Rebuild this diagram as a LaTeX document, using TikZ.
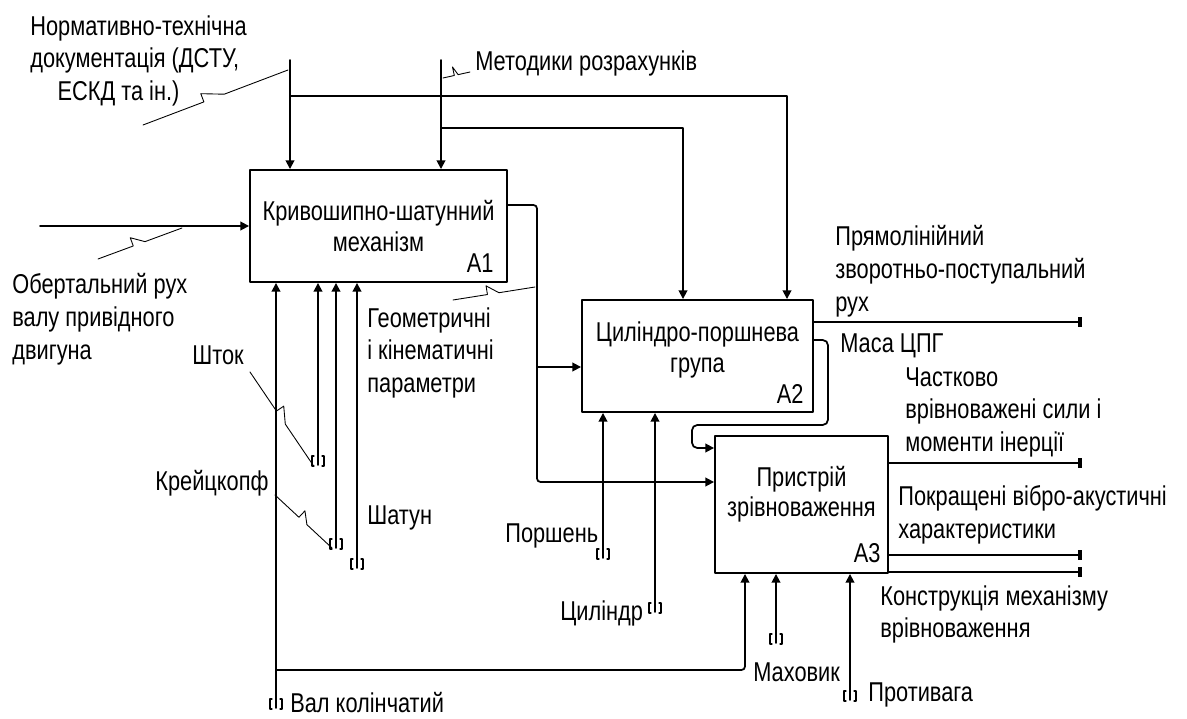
\documentclass[tikz,border=0pt]{standalone}
\usepackage{fontspec}
\setmainfont{Liberation Sans}[FakeStretch=0.8]
\usetikzlibrary{arrows.meta,calc}

\newcommand\squig[2]{%
  \path (#1) -- (#2) coordinate[pos=.42] (sqa) coordinate[pos=.56] (sqb);
  \draw[lead] (#1) -- (sqa) -- ($(sqa)!5pt!90:(#2)$) -- (sqb) -- (#2);}

\begin{document}
\begin{tikzpicture}[line cap=round,line join=round,x=0.02cm,y=-0.02cm,
  lbl/.style={font=\fontsize{15.5}{18.7}\selectfont,inner sep=0pt,anchor=north west,align=left},
  box/.style={draw,line width=1.1pt,inner sep=0pt,align=center,font=\fontsize{15.5}{17.5}\selectfont},
  flow/.style={line width=1pt,-{Triangle[width=5pt,length=5pt]}},
  outp/.style={line width=1pt,-{Rectangle[width=5.5pt,length=2.2pt]}},
  lead/.style={line width=0.5pt},
  tunnel/.pic={\draw[line width=0.6pt] (-4,-9) -- (-6,-9) -- (-6,1) -- (-4,1) (4,-9) -- (6,-9) -- (6,1) -- (4,1);}]
\useasboundingbox (0,0) rectangle (1187,719);

% functions
\node[box,minimum width=5.14cm,minimum height=2.24cm] (a1) at (378.5,226) {Кривошипно-шатунний\\механізм};
\node[box,minimum width=4.62cm,minimum height=2.24cm,text depth=10pt] (a2) at (697.5,356) {Циліндро-поршнева\\група};
\node[box,minimum width=3.46cm,minimum height=2.74cm,text depth=15pt] (a3) at (801.5,504.5) {Пристрій\\зрівноваження};
\node[lbl,anchor=south east] (a1id) at ([xshift=-0.28cm,yshift=0.2cm]a1.south east) {A1};
\node[lbl,anchor=south east] (a2id) at ([xshift=-0.2cm,yshift=0.18cm]a2.south east) {A2};
\node[lbl,anchor=south east] (a3id) at ([xshift=-0.16cm,yshift=0.22cm]a3.south east) {A3};

% controls
\coordinate (docs) at (290,60);
\coordinate (meth) at (441,60);
\draw[flow] (docs) -- (docs |- a1.north);
\draw[flow] (meth) -- (meth |- a1.north);
\draw[flow] (290,96) -| (a2.north -| 787,0);
\draw[flow] (441,128) -| (a2.north -| 683,0);

% inputs
\coordinate (rot) at (40,226);
\draw[flow] (rot) -- (rot -| a1.west);
\draw[flow,rounded corners=2pt] (a1.east |- 0,205) -- (537,205) -- (537,482) -- (a3.west |- 0,482);
\draw[flow] (537,367) -- (a2.west |- 0,367);
\draw[flow,rounded corners=3pt] (a2.east |- 0,340) -- (828,340) -- (828,425) -- (692,425) -- (692,448) -- (a3.west |- 0,448);

% mechanisms
\coordinate (val) at (276,708);
\coordinate (shtok) at (318,465);
\coordinate (kreits) at (336,548);
\coordinate (shatun) at (357,568);
\coordinate (porshen) at (603,558);
\coordinate (tsyl) at (655,612);
\coordinate (makh) at (776,643);
\coordinate (protyv) at (850,700);
\draw[flow] (val) -- (val |- a1.south);
\draw[flow,rounded corners=2pt] (276,670) -| (a3.south -| 745,0);
\foreach \m/\b in {shtok/a1,kreits/a1,shatun/a1,porshen/a2,tsyl/a2,makh/a3,protyv/a3}{
  \draw[flow] (\m) -- (\m |- \b.south);
  \pic at (\m) {tunnel};
}
\pic at (val) {tunnel};

% outputs
\coordinate (pryam) at (1082,322);
\coordinate (chast) at (1082,463);
\coordinate (pokr) at (1082,555);
\coordinate (konstr) at (1082,572);
\draw[outp] (a2.east |- pryam) -- (pryam);
\foreach \o in {chast,pokr,konstr}
  \draw[outp] (a3.east |- \o) -- (\o);

% labels
\node[lbl] (docsl) at (30,15) {Нормативно-технічна\\документація (ДСТУ,\\\hspace*{15.5pt}ЕСКД та ін.)};
\node[lbl] (methl) at (475,50) {Методики розрахунків};
\node[lbl] (rotl) at (12,273) {Обертальний рух\\валу привідного\\двигуна};
\node[lbl] (shtokl) at (192,345) {Шток};
\node[lbl] (kreitsl) at (155,470) {Крейцкопф};
\node[lbl] (shatunl) at (367,505) {Шатун};
\node[lbl] (vall) at (290,692) {Вал колінчатий};
\node[lbl] (geoml) at (367,307) {Геометричні\\і кінематичні\\параметри};
\node[lbl] (pryaml) at (835,225) {Прямолінійний\\зворотньо-поступальний\\рух};
\node[lbl] (masal) at (840,333) {Маса ЦПГ};
\node[lbl] (chastl) at (905,367) {Частково\\врівноважені сили і\\моменти інерції};
\node[lbl] (pokrl) at (898,485) {Покращені вібро-акустичні\\характеристики};
\node[lbl] (konstrl) at (880,585) {Конструкція механізму\\врівноваження};
\node[lbl] (protyvl) at (868,682) {Противага};
\node[lbl] (makhl) at (753,662) {Маховик};
\node[lbl] (porshenl) at (505,523) {Поршень};
\node[lbl] (tsyll) at (560,600) {Циліндр};

% leaders
\squig{143,125}{288,70}
\squig{443,78}{470,72}
\squig{98,259}{182,228}
\squig{250,372}{313,465}
\squig{275,495}{332,548}
\squig{453,300}{535,287}
\end{tikzpicture}
\end{document}
